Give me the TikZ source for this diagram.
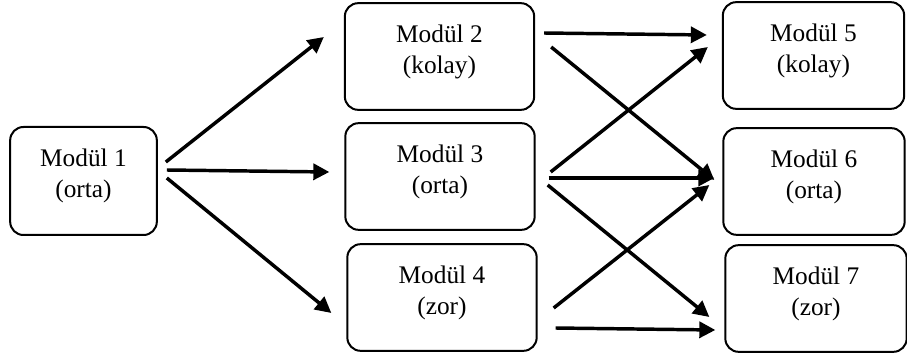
\documentclass[tikz,border=0pt]{standalone}
\usepackage{fontspec}
\setmainfont{Liberation Serif}
\usetikzlibrary{arrows.meta}

\tikzset{
    modul/.style={shape=rectangle, rounded corners=10pt, draw=black, line width=1.5pt,
        align=center, font=\fontsize{19}{23}\selectfont, text height=36pt, text depth=11pt},
    orta/.style={modul, minimum width=142pt, minimum height=80pt},
    sag/.style={modul, minimum width=136pt, minimum height=80pt},
    ok/.style={line width=2.6pt, -{Triangle[length=12pt,width=12pt]}}
}

\begin{document}
\begin{tikzpicture}[x=0.75pt, y=-0.75pt]
            \useasboundingbox (0,0) rectangle (907,356);

            \node[modul, minimum width=110pt, minimum height=81pt] (m1) at (83.5,181) {Modül 1\\(orta)};
            \node[orta] (m2) at (439.5,56.5) {Modül 2\\(kolay)};
            \node[orta] (m3) at (440,176.5) {Modül 3\\(orta)};
            \node[orta] (m4) at (442,297.5) {Modül 4\\(zor)};
            \node[sag] (m5) at (813.5,55.5) {Modül 5\\(kolay)};
            \node[sag] (m6) at (814,181.5) {Modül 6\\(orta)};
            \node[sag] (m7) at (816,298.5) {Modül 7\\(zor)};

            %Oklar

            \draw[ok] ([shift={(8,-19)}]m1.east) -- ([shift={(-20,-19.5)}]m2.west);
            \draw[ok] ([shift={(9,-11)}]m1.east) -- ([shift={(-15,-4.5)}]m3.west);
            \draw[ok] ([shift={(9,-3)}]m1.east) -- ([shift={(-15,15.5)}]m4.west);
            \draw[ok] ([shift={(9,-23.5)}]m2.east) -- ([shift={(-15,-20.5)}]m5.west);
            \draw[ok] ([shift={(16,-9.5)}]m2.east) -- ([shift={(-8,-1.5)}]m6.west);
            \draw[ok] ([shift={(15,-4.5)}]m3.east) -- ([shift={(-14,-8.5)}]m5.west);
            \draw[ok] ([shift={(13,1.5)}]m3.east) -- ([shift={(-8,-3.5)}]m6.west);
            \draw[ok] ([shift={(12,8.5)}]m3.east) -- ([shift={(-15,18.5)}]m7.west);
            \draw[ok] ([shift={(16,10.5)}]m4.east) -- ([shift={(-13,3.5)}]m6.west);
            \draw[ok] ([shift={(18,30.5)}]m4.east) -- ([shift={(-9,31.5)}]m7.west);
        \end{tikzpicture}
\end{document}
